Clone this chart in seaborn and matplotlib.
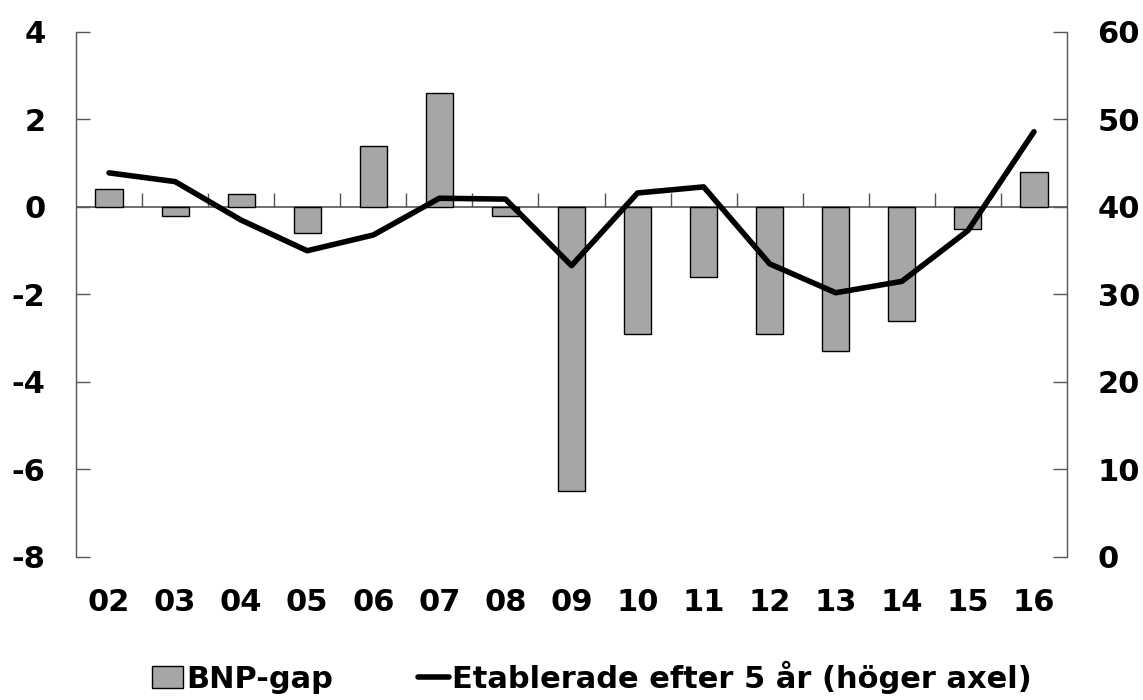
import numpy as np
import pandas as pd
import matplotlib
matplotlib.use("Agg")
import matplotlib.pyplot as plt
import seaborn as sns
from matplotlib.patches import Patch
from matplotlib.lines import Line2D

years = ["02", "03", "04", "05", "06", "07", "08", "09", "10", "11", "12", "13", "14", "15", "16"]
bnp_gap = [0.4, -0.2, 0.3, -0.6, 1.4, 2.6, -0.2, -6.5, -2.9, -1.6, -2.9, -3.3, -2.6, -0.5, 0.8]
etablerade = [43.9, 42.9, 38.5, 35.0, 36.8, 41.0, 40.9, 33.3, 41.6, 42.3, 33.5, 30.2, 31.5, 37.3, 48.6]
left_ticks = [4, 2, 0, -2, -4, -6, -8]
right_ticks = [60, 50, 40, 30, 20, 10, 0]

sns.set_style("white")
plt.rcParams["font.family"] = ["DejaVu Sans"]
plt.rcParams["font.weight"] = "bold"
plt.rcParams["text.color"] = "black"
plt.rcParams["xtick.labelcolor"] = "black"
plt.rcParams["ytick.labelcolor"] = "black"

df = pd.DataFrame({"year": years, "gap": bnp_gap, "etab": etablerade, "pos": np.arange(len(years))})

fig = plt.figure(figsize=(11.43, 7.0), dpi=100)
ax = fig.add_axes([0.0665, 0.2043, 0.867, 0.75])

sns.barplot(data=df, x="year", y="gap", color="#a6a6a6", edgecolor="black",
            linewidth=1.0, width=0.41, saturation=1, ax=ax, zorder=2)
ax.set_ylim(-8, 4)
ax.set_xlim(-0.5, len(years) - 0.5)
ax.set_yticks(left_ticks)
ax.set_yticklabels([str(t) for t in left_ticks], fontsize=22, fontweight="bold", color="black")
ax.set_xticks(range(len(years)))
ax.set_xticklabels(years, fontsize=22, fontweight="bold", color="black")
ax.tick_params(axis="x", length=0, pad=22)
ax.tick_params(axis="y", direction="in", length=10, width=1, color="#555555", pad=22)
ax.set_xlabel("")
ax.set_ylabel("")
for s in ["top", "bottom", "right"]:
    ax.spines[s].set_visible(False)
ax.spines["left"].set_color("#555555")
ax.spines["left"].set_linewidth(1)
ax.axhline(0, color="#555555", linewidth=1.2, zorder=1)

# tick marks between categories on the zero line
sec = ax.secondary_xaxis(8 / 12)
sec.set_xticks(np.arange(0.5, len(years) - 1, 1.0))
sec.set_xticklabels([])
sec.tick_params(axis="x", direction="out", length=10, width=1, color="#555555")
for s in sec.spines.values():
    s.set_visible(False)

ax2 = ax.twinx()
sns.lineplot(data=df, x="pos", y="etab", color="black", linewidth=4, ax=ax2)
ax2.set_ylim(0, 60)
ax2.set_yticks(right_ticks)
ax2.set_yticklabels([str(t) for t in right_ticks], fontsize=22, fontweight="bold", color="black")
ax2.tick_params(axis="y", direction="in", length=10, width=1, color="#555555", pad=22)
ax2.set_ylabel("")
for s in ["top", "bottom", "left"]:
    ax2.spines[s].set_visible(False)
ax2.spines["right"].set_color("#555555")
ax2.spines["right"].set_linewidth(1)
ax2.set_xlim(-0.5, len(years) - 0.5)

handles = [Patch(facecolor="#a6a6a6", edgecolor="black", linewidth=1),
           Line2D([0], [0], color="black", linewidth=4)]
fig.legend(handles, ["BNP-gap", "Etablerade efter 5 år (höger axel)"], loc="lower center",
           bbox_to_anchor=(0.518, -0.03), ncol=2, frameon=False,
           prop={"weight": "bold", "size": 22}, handlelength=1.0, handletextpad=0.1,
           columnspacing=2.8, labelcolor="black")

fig.savefig("out.png", dpi=100)
